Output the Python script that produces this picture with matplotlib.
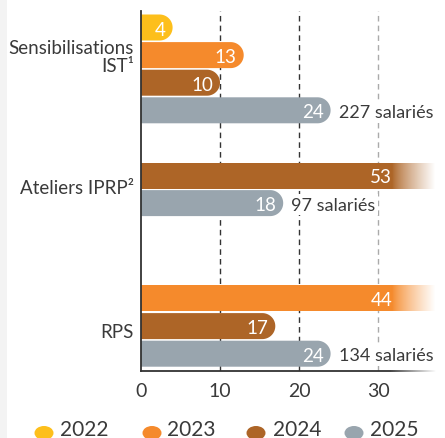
import numpy as np
import matplotlib
matplotlib.use("Agg")
import matplotlib.pyplot as plt
from matplotlib.patches import Polygon, Ellipse, Rectangle

plt.rcParams['font.family'] = ['Lato', 'DejaVu Sans']

# ---------------- data ----------------
categories = ["Sensibilisations\nIST¹", "Ateliers IPRP²", "RPS"]
years = ["2022", "2023", "2024", "2025"]
v2022 = [4, None, None]
v2023 = [13, None, 44]
v2024 = [10, 53, 17]
v2025 = [24, 18, 24]
salaries = ["227 salariés", "97 salariés", "134 salariés"]
xticks = [0, 10, 20, 30]

series = [v2022, v2023, v2024, v2025]
colors = ["#FDBF1B", "#F58A2C", "#AD6527", "#99A5AE"]

# ---------------- layout (pixel units) ----------------
W, H = 445, 439
AX_L, AX_R, AX_T, AX_B = 141, 435, 12, 372
PX_PER_UNIT = 7.9
XMAX = (AX_R - AX_L) / PX_PER_UNIT
group_start = [28.5, 176.5, 299.5]
step = 27.6
bar_h = 26
label_y = [55, 187, 331]
fade_start = 31.8
text_col = "#3a3a3a"

fig = plt.figure(figsize=(W / 100, H / 100), dpi=100)
fig.patch.set_facecolor("white")
fig.patches.append(Rectangle((0, 0), 7 / W, 1, transform=fig.transFigure,
                             facecolor="#f3f3f3", edgecolor="none", zorder=0))

ax = fig.add_axes([AX_L / W, (H - AX_B) / H, (AX_R - AX_L) / W, (AX_B - AX_T) / H])
ax.set_xlim(0, XMAX)
ax.set_ylim(AX_B, AX_T)
ax.patch.set_alpha(0)

# grid lines
for t in xticks[1:]:
    col = "#333333" if t < 30 else "#aaaaaa"
    ax.axvline(t, color=col, lw=1, ls=(0, (4, 3)), zorder=1)

rx = (bar_h / 2) / PX_PER_UNIT
hh = bar_h / 2
theta = np.linspace(-np.pi / 2, np.pi / 2, 40)

for gi in range(len(categories)):
    k = 0
    for si, s in enumerate(series):
        v = s[gi]
        if v is None:
            continue
        c = group_start[gi] + k * step
        k += 1
        col = colors[si]
        if v < XMAX:
            xs = [0, v - rx] + list(v - rx + rx * np.cos(theta)) + [v - rx, 0]
            ys = [c - hh, c - hh] + list(c + hh * np.sin(theta)) + [c + hh, c + hh]
            ax.add_patch(Polygon(np.column_stack([xs, ys]), closed=True,
                                 facecolor=col, edgecolor="none", zorder=2))
            lab_x = v
            off = -7
        else:
            ax.add_patch(Rectangle((0, c - hh), XMAX, bar_h, facecolor=col,
                                   edgecolor="none", zorder=2))
            grad = np.ones((1, 100, 4))
            grad[0, :, 3] = np.linspace(0, 1, 100) ** 0.8
            ax.imshow(grad, extent=(fade_start, XMAX, c + hh + 0.5, c - hh - 0.5),
                      aspect="auto", zorder=3, interpolation="bilinear")
            lab_x = fade_start
            off = 0
        ax.annotate(str(v), xy=(lab_x, c), xytext=(off, 0), textcoords="offset pixels",
                    ha="right", va="center_baseline", color="white", fontsize=13.5, zorder=4)
        if si == len(series) - 1:
            ax.annotate(salaries[gi], xy=(v, c), xytext=(8, 0), textcoords="offset pixels",
                        ha="left", va="center_baseline", color=text_col, fontsize=13,
                        zorder=4, annotation_clip=False,
                        bbox=dict(boxstyle="square,pad=0.15", facecolor="white", edgecolor="none"))

ax.imshow(np.dstack([np.ones((1, 100, 3)), np.linspace(0, 1, 100)[None, :, None]]),
          extent=(31.5, XMAX, AX_B + 3, AX_B - 3), aspect="auto", zorder=6,
          interpolation="bilinear", clip_on=False)
ax.set_xlim(0, XMAX)
ax.set_ylim(AX_B, AX_T)

for sp in ["top", "right"]:
    ax.spines[sp].set_visible(False)
ax.spines["left"].set_color("#333333")
ax.spines["left"].set_linewidth(1.3)
ax.spines["bottom"].set_color("#333333")
ax.spines["bottom"].set_linewidth(1.3)
ax.spines["bottom"].set_zorder(5)

ax.set_xticks(xticks)
ax.set_xticklabels([str(t) for t in xticks])
ax.set_yticks(label_y)
ax.set_yticklabels(categories, linespacing=1.1)
ax.tick_params(axis="x", length=0, pad=8, labelsize=14, labelcolor=text_col)
ax.tick_params(axis="y", length=0, pad=5, labelsize=13.5, labelcolor=text_col)

# legend (overlay in pixel coordinates)
ov = fig.add_axes([0, 0, 1, 1], zorder=10)
ov.set_xlim(0, W)
ov.set_ylim(H, 0)
ov.axis("off")
ov.patch.set_alpha(0)
leg_marker_x = [44, 152, 256, 354]
leg_text_x = [60, 167, 273, 370]
for i, y in enumerate(years):
    ov.add_patch(Ellipse((leg_marker_x[i], 434), 19, 14, facecolor=colors[i], edgecolor="none"))
    ov.text(leg_text_x[i], 428, y, ha="left", va="center_baseline", fontsize=15, color=text_col)

fig.savefig("out.png", dpi=100)
